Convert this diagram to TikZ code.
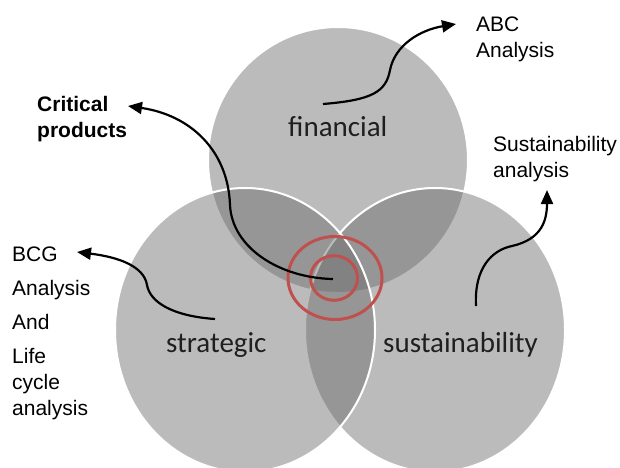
\documentclass[tikz,border=0pt]{standalone}
\usepackage{fontspec}
\setmainfont{Liberation Sans}
\newfontfamily\calibrifont{Carlito}
\usetikzlibrary{arrows.meta}
\definecolor{venngray}{RGB}{106,106,106}
\definecolor{targetred}{RGB}{192,80,77}
\begin{document}
\begin{tikzpicture}[x=1pt,y=-1pt,
  venn/.style={fill=venngray, fill opacity=0.456, draw=white, line width=2pt},
  ring/.style={draw=targetred, line width=3pt},
  link/.style={draw=black, line width=2.2pt, -{Triangle[length=14pt,width=12pt]}},
  sidelabel/.style={font=\fontsize{21}{26}\selectfont, align=left, anchor=base west, inner sep=0pt},
  setlabel/.style={font=\calibrifont\fontsize{29}{34}\selectfont, inner sep=0pt, anchor=base west, text=black!88}]
\useasboundingbox (0,0) rectangle (620,467);

% the three overlapping sets
\draw[venn] (338,160) ellipse [x radius=130pt, y radius=133pt];
\draw[venn] (435,330) ellipse [x radius=130pt, y radius=142pt];
\draw[venn] (245,330) ellipse [x radius=130pt, y radius=142pt];

% target rings on the common core
\draw[ring] (335,278) ellipse [x radius=47pt, y radius=41.5pt];
\draw[ring] (334,278) ellipse [x radius=23.5pt, y radius=22.3pt];

% set names
\node[setlabel] (fin) at (288,136) {financial};
\node[setlabel] (strat) at (166,352) {strategic};
\node[setlabel] (sust) at (383,352) {sustainability};

% outside labels (anchored on the baseline of their last line)
\node[sidelabel] (abc) at (476,57) {ABC\\Analysis};
\node[sidelabel, font=\bfseries\fontsize{21}{26}\selectfont] (crit) at (37,137) {Critical\\products};
\node[sidelabel] (susan) at (493,177) {Sustainability\\analysis};
\node[sidelabel] (bcg) at (12,415) {BCG\\[8pt]Analysis\\[8pt]And\\[8pt]Life\\cycle\\analysis};

% arrow ends
\coordinate (coreTail) at (333,279);
\coordinate (critTip) at (128,106);
\coordinate (finTail) at (323,104);
\coordinate (abcTip) at (456,24);
\coordinate (susTail) at (476,306);
\coordinate (susTip) at (547,190);
\coordinate (strTail) at (215,319);
\coordinate (bcgTip) at (77,252);

% curved arrows
\draw[link] (coreTail) .. controls (280,278) and (232,248) .. (230,205)
  .. controls (228,150) and (190,115) .. (critTip);
\draw[link] (finTail) .. controls (372,100) and (386,92) .. (390,70)
  .. controls (395,45) and (420,30) .. (abcTip);
\draw[link] (susTail) .. controls (474,268) and (492,250) .. (512,246)
  .. controls (538,240) and (547,225) .. (susTip);
\draw[link] (strTail) .. controls (172,316) and (150,302) .. (147,285)
  .. controls (144,266) and (118,257) .. (bcgTip);
\end{tikzpicture}
\end{document}
